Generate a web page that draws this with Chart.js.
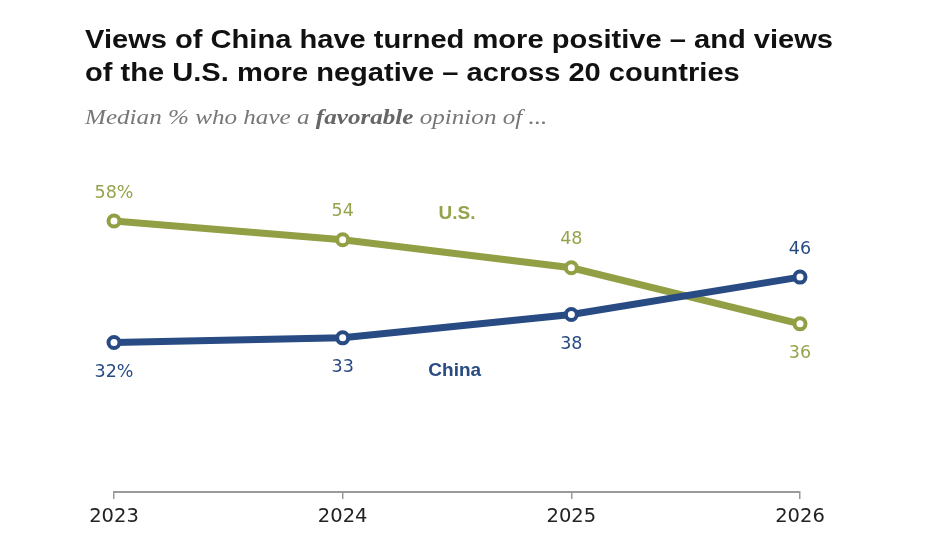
<!DOCTYPE html>
<html>
<head>
<meta charset="utf-8">
<script src="https://cdn.jsdelivr.net/npm/chart.js@4.4.0/dist/chart.umd.min.js"></script>
<style>
  html, body { margin:0; padding:0; background:#fff; }
  #wrap { position:relative; width:951px; height:535px; overflow:hidden; }
  #chartBox { position:absolute; left:0; top:0; width:951px; height:535px; }
  .tline { position:absolute; left:85px; white-space:nowrap; transform-origin:0 0;
           font-family:"Liberation Sans",Arial,sans-serif;
           font-weight:bold; font-size:26.5px; color:#111; line-height:26px; }
  #sub { position:absolute; left:85px; top:106px; white-space:nowrap; transform-origin:0 0;
         font-family:"Liberation Serif",Georgia,serif; font-style:italic; font-size:20.5px; color:#777; line-height:22px; }
  #sub b { color:#666; }
</style>
</head>
<body>
<div id="wrap">
  <div id="chartBox"><canvas id="c"></canvas></div>
  <div class="tline" id="t1" style="top:26px;">Views of China have turned more positive – and views</div>
  <div class="tline" id="t2" style="top:59px;">of the U.S. more negative – across 20 countries</div>
  <div id="sub">Median % who have a <b>favorable</b> opinion of ...</div>
</div>
<script>
// ---- data ----
const years = ["2023", "2024", "2025", "2026"];
const usValues = [58, 54, 48, 36];
const chinaValues = [32, 33, 38, 46];
const seriesNames = ["U.S.", "China"];

// ---- fit title text widths (measured with canvas, independent of layout) ----
function textWidth(el) {
  const cs = getComputedStyle(el);
  const cv = document.createElement("canvas").getContext("2d");
  cv.font = cs.fontStyle + " " + cs.fontWeight + " " + cs.fontSize + " " + cs.fontFamily;
  return cv.measureText(el.textContent).width;
}
function fitAll() {
  const t1 = document.getElementById("t1"), t2 = document.getElementById("t2"), sub = document.getElementById("sub");
  const s = 748 / textWidth(t1);
  t1.style.transform = "scaleX(" + s + ")";
  t2.style.transform = "scaleX(" + s + ")";
  sub.style.transform = "scaleX(" + (463 / sub.scrollWidth) + ")";
}
fitAll();
if (document.fonts && document.fonts.ready) document.fonts.ready.then(fitAll);

const GREEN = "#929f45";
const GREEN_TXT = "#97a34c";
const BLUE = "#274b82";

// placement of value labels: -1 above, +1 below
const usPlace = [-1, -1, -1, 1];
const chinaPlace = [1, 1, 1, -1];

const labelPlugin = {
  id: "labels",
  afterDatasetsDraw(chart) {
    const ctx = chart.ctx;
    const xs = chart.scales.x, ys = chart.scales.y;
    ctx.save();
    ctx.textAlign = "center";
    ctx.textBaseline = "middle";
    ctx.font = '17.5px "DejaVu Sans", "Liberation Sans", sans-serif';
    const sets = [[chinaValues, chinaPlace, BLUE], [usValues, usPlace, GREEN_TXT]];
    sets.forEach(([vals, place, col]) => {
      ctx.fillStyle = col;
      vals.forEach((v, i) => {
        const x = xs.getPixelForValue(i);
        const y = ys.getPixelForValue(v);
        const off = place[i] < 0 ? -28 : 30;
        ctx.fillText(v + (i === 0 ? "%" : ""), x, y + off);
      });
    });
    ctx.font = 'bold 19px "Liberation Sans", Arial, sans-serif';
    ctx.fillStyle = GREEN_TXT;
    ctx.fillText(seriesNames[0], xs.getPixelForValue(1.5), ys.getPixelForValue(59.6));
    ctx.fillStyle = BLUE;
    ctx.fillText(seriesNames[1], xs.getPixelForValue(1.49), ys.getPixelForValue(26));
    ctx.restore();
  }
};

new Chart(document.getElementById("c"), {
  type: "line",
  data: {
    labels: years,
    datasets: [
      {
        label: seriesNames[1], data: chinaValues,
        borderColor: BLUE, borderWidth: 7,
        pointRadius: 5.5, pointBorderWidth: 4, pointBackgroundColor: "#fff", pointBorderColor: BLUE,
        tension: 0, fill: false
      },
      {
        label: seriesNames[0], data: usValues,
        borderColor: GREEN, borderWidth: 7,
        pointRadius: 5.5, pointBorderWidth: 4, pointBackgroundColor: "#fff", pointBorderColor: GREEN,
        tension: 0, fill: false
      }
    ]
  },
  options: {
    responsive: true,
    maintainAspectRatio: false,
    animation: false,
    events: [],
    layout: { padding: { left: 114, right: 151, top: 165, bottom: 0 } },
    plugins: { legend: { display: false }, tooltip: { enabled: false } },
    scales: {
      x: {
        offset: false,
        grid: { drawOnChartArea: false, drawTicks: true, tickLength: 7, color: "#9a9a9a", lineWidth: 1.5 },
        border: { display: true, color: "#9a9a9a", width: 2 },
        ticks: { color: "#222", padding: 6, font: { family: '"DejaVu Sans", "Liberation Sans", sans-serif', size: 19.5 } },
        afterFit(scale) { scale.height = 43; }
      },
      y: {
        display: false,
        min: 0, max: 70
      }
    }
  },
  plugins: [labelPlugin]
});
</script>
</body>
</html>
